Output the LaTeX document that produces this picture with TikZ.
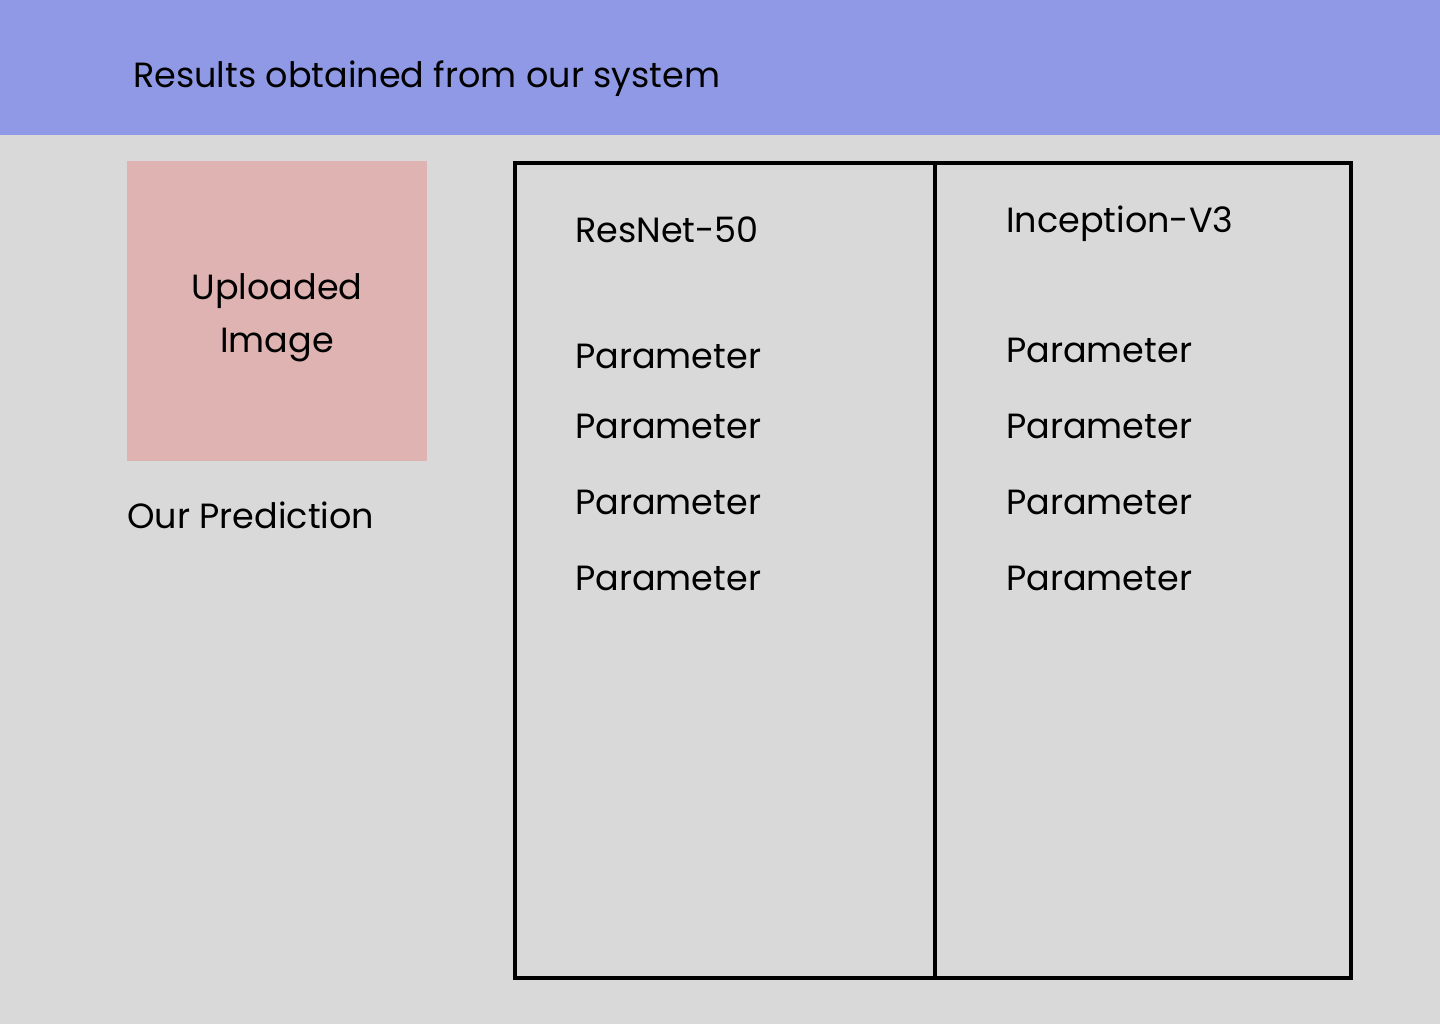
\documentclass[tikz,border=0pt]{standalone}
\usepackage{fontspec}
\setmainfont{Poppins}
\definecolor{bgc}{RGB}{217,217,217}
\definecolor{headc}{RGB}{143,153,230}
\definecolor{pinkc}{RGB}{224,179,179}
\begin{document}
\begin{tikzpicture}[x=1pt,y=-1pt,
  txt/.style={anchor=base west,inner sep=0pt,font=\fontsize{35}{42}\selectfont},
  frame/.style={draw=black,line width=4pt}]
\fill[bgc] (0,0) rectangle (1440,1024);
\useasboundingbox (0,0) rectangle (1440,1024);
\fill[headc] (0,0) rectangle (1440,135);
\node[txt] (title) at (133,88) {Results obtained from our system};
\node[fill=pinkc,minimum width=300pt,minimum height=300pt,inner sep=0pt,anchor=north west] (img) at (127,161) {};
\node[txt,anchor=base] (up1) at (277,300) {Uploaded};
\node[txt,anchor=base] (up2) at (277,352) {Image};
\node[txt] (pred) at (127,528) {Our Prediction};
\draw[frame] (515,163) rectangle (1351,978);
\coordinate (dtop) at (935,163);
\coordinate (dbot) at (935,978);
\draw[frame] (dtop) -- (dbot);
\node[txt] (m1) at (575,243) {ResNet-50};
\node[txt] (m2) at (1006,233) {Inception-V3};
\node[txt] (a1) at (575,368) {Parameter};
\node[txt] (a2) at (575,438) {Parameter};
\node[txt] (a3) at (575,514) {Parameter};
\node[txt] (a4) at (575,590) {Parameter};
\node[txt] (b1) at (1006,362) {Parameter};
\node[txt] (b2) at (1006,438) {Parameter};
\node[txt] (b3) at (1006,514) {Parameter};
\node[txt] (b4) at (1006,590) {Parameter};
\end{tikzpicture}
\end{document}
